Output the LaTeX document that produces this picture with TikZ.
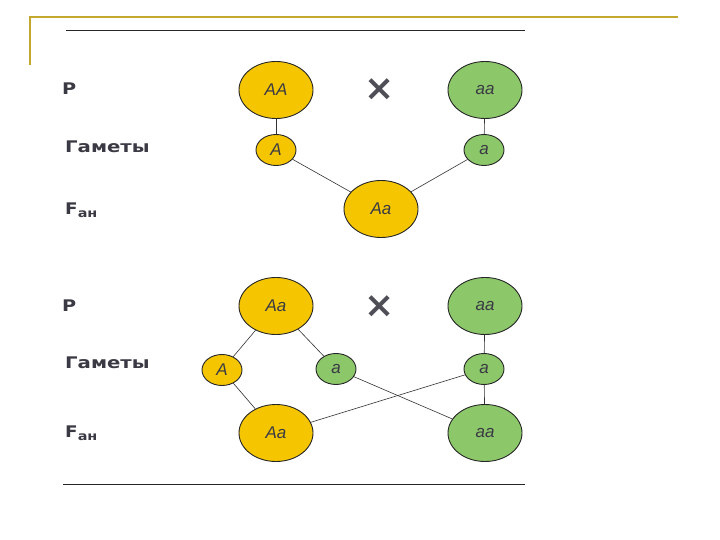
\documentclass[tikz,border=0pt]{standalone}
\usepackage{fontspec}
\setmainfont{Liberation Sans}
\newfontfamily\lblfont{DejaVu Sans}
\usetikzlibrary{shapes.geometric}
\definecolor{goldframe}{HTML}{C2A92E}
\definecolor{yel}{HTML}{F5C600}
\definecolor{grn}{HTML}{8CC76A}
\definecolor{inkc}{HTML}{3A3A44}
\tikzset{
  big/.style={ellipse,draw=black!85,line width=0.9pt,inner sep=0pt,minimum width=74pt,minimum height=57pt,font=\fontsize{17}{17}\selectfont\itshape,text=inkc},
  small/.style={ellipse,draw=black!85,line width=0.9pt,inner sep=0pt,minimum width=40pt,minimum height=31pt,font=\fontsize{17}{17}\selectfont\itshape,text=inkc},
  Y/.style={fill=yel},
  G/.style={fill=grn},
  lbl/.style={anchor=west,inner sep=0pt,text=inkc,font=\lblfont\bfseries\fontsize{16}{16}\selectfont},
  link/.style={draw=black!80,line width=0.6pt},
  crossm/.style={font=\lblfont\bfseries\fontsize{36}{36}\selectfont,text=inkc!90,inner sep=0pt}
}
\begin{document}
\begin{tikzpicture}[x=1pt,y=-1pt]
\useasboundingbox (0,0) rectangle (720,540);
\fill[white] (0,0) rectangle (720,540);
% frame
\draw[goldframe,line width=1.6pt] (30,65) -- (30,17) -- (678,17);
\draw[black!85,line width=0.8pt] (66,30) -- (525,30);
\draw[black!85,line width=0.8pt] (63,484) -- (525,484);
% labels top
\node[lbl] (p1) at (62,89) {\scalebox{1.2}[1]{P}};
\node[lbl] (g1) at (65,147) {\scalebox{1.23}[1]{Гаметы}};
\node[lbl] (f1) at (65,210) {\scalebox{1.15}[1]{F}\raisebox{-0.35ex}{\fontsize{12}{12}\selectfont\scalebox{1.2}[1]{ан}}};
% labels bottom
\node[lbl] (p2) at (62,306) {\scalebox{1.2}[1]{P}};
\node[lbl] (g2) at (65,363) {\scalebox{1.23}[1]{Гаметы}};
\node[lbl] (f2) at (65,433) {\scalebox{1.15}[1]{F}\raisebox{-0.35ex}{\fontsize{12}{12}\selectfont\scalebox{1.2}[1]{ан}}};
% top cross
\node[big,Y] (AA) at (276,90) {AA};
\node[big,G] (aa1) at (485,90) {aa};
\node[crossm] (x1) at (380,90) {×};
\node[small,Y] (gA1) at (276,150) {A};
\node[small,G] (ga1) at (484,150) {a};
\node[big,Y] (Aa1) at (381,209) {Aa};
\draw[link] (AA) -- (gA1);
\draw[link] (aa1) -- (ga1);
\draw[link] (gA1) -- (Aa1);
\draw[link] (ga1) -- (Aa1);
% bottom cross
\node[big,Y] (Aa2) at (276,306) {Aa};
\node[big,G] (aa2) at (485,306) {aa};
\node[crossm] (x2) at (380,307) {×};
\node[small,Y] (gA2) at (222,370) {A};
\node[small,G] (ga2) at (336,369) {a};
\node[small,G] (ga3) at (484,369) {a};
\node[big,Y] (Aa3) at (276,433) {Aa};
\node[big,G] (aa3) at (485,433) {aa};
\draw[link] (Aa2) -- (gA2);
\draw[link] (Aa2) -- (ga2);
\draw[link] (aa2) -- (ga3);
\draw[link] (gA2) -- (Aa3);
\draw[link] (ga2) -- (aa3);
\draw[link] (ga3) -- (Aa3);
\draw[link] (ga3) -- (aa3);
\end{tikzpicture}
\end{document}
